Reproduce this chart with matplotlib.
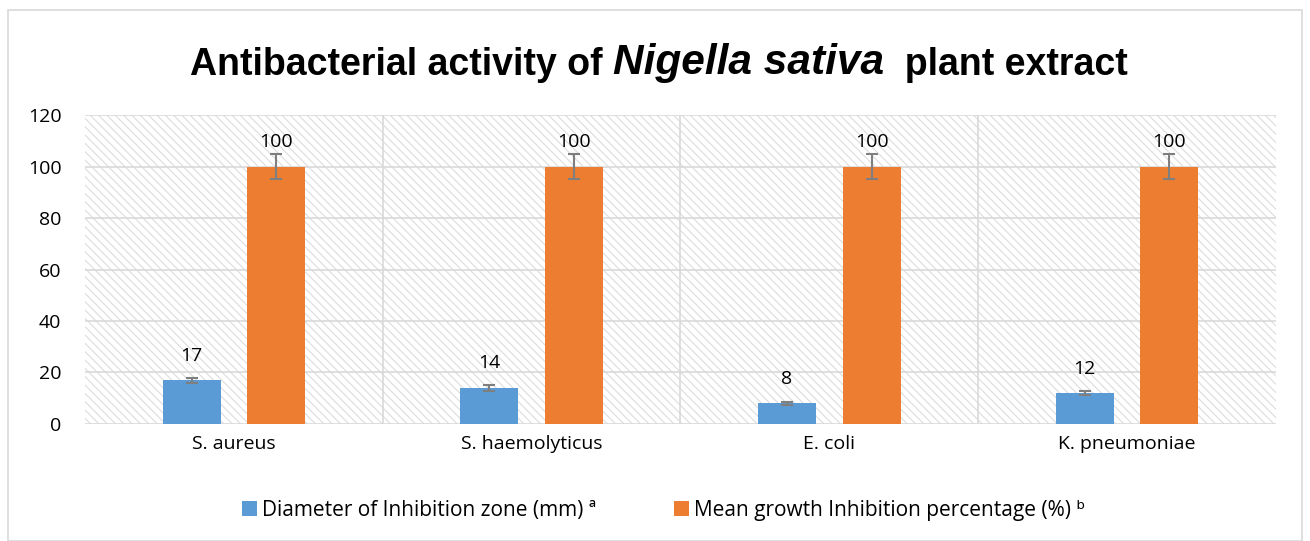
import matplotlib
matplotlib.use("Agg")
import matplotlib.pyplot as plt
import numpy as np

# data
bacteria = ["S. aureus", "S. haemolyticus", "E. coli", "K. pneumoniae"]
diameter = [17, 14, 8, 12]
diameter_err = [1, 1, 0.5, 0.8]
inhibition = [100, 100, 100, 100]
inhibition_err = [5, 5, 5, 5]
yticks = [0, 20, 40, 60, 80, 100, 120]

BLUE = "#5b9bd5"
ORANGE = "#ed7d31"
plt.rcParams["font.family"] = ["Open Sans", "DejaVu Sans"]
plt.rcParams["hatch.color"] = "#d9d9d9"
plt.rcParams["hatch.linewidth"] = 0.8

fig = plt.figure(figsize=(13.1, 5.41), dpi=100)
ax = fig.add_axes([0.0649, 0.2163, 0.909, 0.571])

# outer chart frame
fig.patches.append(plt.Rectangle((0.006, 0.0), 0.988, 0.982, transform=fig.transFigure,
                                 fill=False, edgecolor="#d9d9d9", linewidth=1.2))

x = np.arange(len(bacteria))
w = 0.195
off = 0.142

ax.set_xlim(-0.5, len(bacteria) - 0.5)
ax.set_ylim(0, 120)

# hatched background
ax.add_patch(plt.Rectangle((-0.5, 0), len(bacteria), 120, facecolor="white",
                           edgecolor="#dcdcdc", hatch="\\\\\\\\", linewidth=0, zorder=0))

ax.set_yticks(yticks)
ax.yaxis.grid(True, color="#d9d9d9", linewidth=1.2, zorder=1)
for b in np.arange(0.5, len(bacteria) - 0.5, 1):
    ax.axvline(b, color="#d9d9d9", linewidth=1.2, zorder=1)

ekw = dict(ecolor="#7f7f7f", capsize=4.5, elinewidth=1.5, capthick=1.5)
ax.bar(x - off, diameter, w, color=BLUE, yerr=diameter_err, zorder=3, error_kw=ekw,
       label="Diameter of Inhibition zone (mm) \u00aa")
ax.bar(x + off, inhibition, w, color=ORANGE, yerr=inhibition_err, zorder=3, error_kw=ekw,
       label="Mean growth Inhibition percentage (%) \u1d47")

for xi, v in zip(x - off, diameter):
    ax.text(xi, v + 6, str(v), ha="center", va="bottom", fontsize=14)
for xi, v in zip(x + off, inhibition):
    ax.text(xi, v + 6, str(v), ha="center", va="bottom", fontsize=14)

ax.set_xticks(x)
ax.set_xticklabels(bacteria, fontsize=14)
ax.tick_params(axis="y", labelsize=14, length=0, pad=17)
ax.tick_params(axis="x", length=0, pad=8)
for s in ax.spines.values():
    s.set_visible(False)

ax.legend(loc="center", bbox_to_anchor=(0.486, -0.28), ncol=2, frameon=False,
          fontsize=15, handlelength=0.72, handleheight=0.72, columnspacing=3.7,
          handletextpad=0.25)

# title with italic species name
tfam = "Liberation Sans"
t1 = fig.text(0.145, 0.861, "Antibacterial activity of ", fontsize=27, fontweight="bold",
              family=tfam, va="baseline")
t2 = ax.annotate("Nigella sativa", xycoords=t1, xy=(1, 0), va="bottom",
                 fontsize=30.5, fontweight="bold", fontstyle="italic",
                 family=tfam, annotation_clip=False)
t3 = ax.annotate("  plant extract", xycoords=t2, xy=(1, 0), va="bottom",
                 fontsize=27, fontweight="bold", family=tfam,
                 annotation_clip=False)

fig.savefig("out.png", dpi=100)
